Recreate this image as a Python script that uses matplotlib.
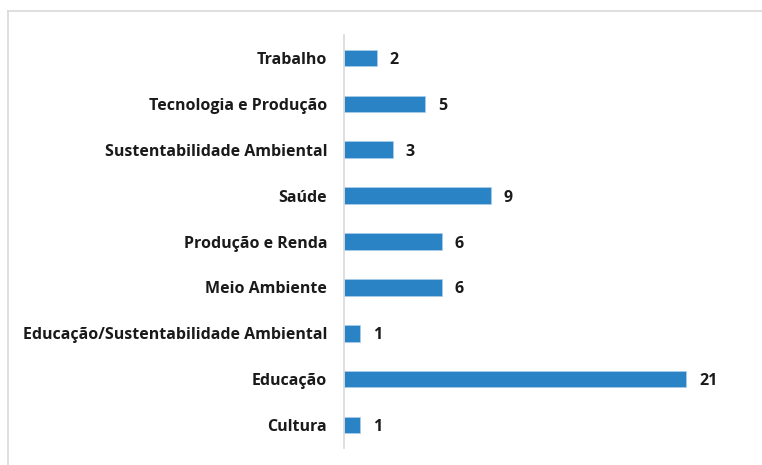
import matplotlib
matplotlib.use("Agg")
import matplotlib.pyplot as plt
from matplotlib.lines import Line2D

categories = ["Cultura", "Educação", "Educação/Sustentabilidade Ambiental",
              "Meio Ambiente", "Produção e Renda", "Saúde",
              "Sustentabilidade Ambiental", "Tecnologia e Produção", "Trabalho"]
values = [1, 21, 1, 6, 6, 9, 3, 5, 2]

W, H = 762, 465
fig = plt.figure(figsize=(W / 100, H / 100), dpi=100)
fig.patch.set_facecolor("white")

# outer chart border (left and top visible)
fig.add_artist(Line2D([8 / W, 8 / W], [0, 1 - 11 / H], transform=fig.transFigure,
                      color="#D9D9D9", lw=1.2))
fig.add_artist(Line2D([8 / W, 1], [1 - 11 / H, 1 - 11 / H], transform=fig.transFigure,
                      color="#D9D9D9", lw=1.2))

left, right, top, bottom = 344, 735, 35, 448
ax = fig.add_axes([left / W, 1 - bottom / H, (right - left) / W, (bottom - top) / H])
ax.set_facecolor("none")

FS = 11.5
y = list(range(len(categories)))
ax.barh(y, values, height=0.36, color="#2A83C4", edgecolor="#A9CDEA", linewidth=0.5)
ax.set_xlim(0, 24)
ax.set_ylim(-0.5, len(categories) - 0.5)

ax.set_yticks(y)
ax.set_yticklabels(categories, fontfamily="Open Sans", fontweight="bold",
                   fontsize=FS, color="#1a1a1a")
ax.tick_params(axis="y", length=0, pad=12.2)
ax.set_xticks([])

for s in ["top", "right", "bottom"]:
    ax.spines[s].set_visible(False)
ax.spines["left"].set_color("#D9D9D9")
ax.spines["left"].set_linewidth(1.2)

for yi, v in zip(y, values):
    ax.annotate(str(v), xy=(v, yi), xytext=(13, 0), textcoords="offset pixels",
                va="center_baseline", ha="left", fontfamily="Open Sans", fontweight="bold",
                fontsize=FS, color="#1a1a1a")

fig.savefig("out.png", dpi=100)
